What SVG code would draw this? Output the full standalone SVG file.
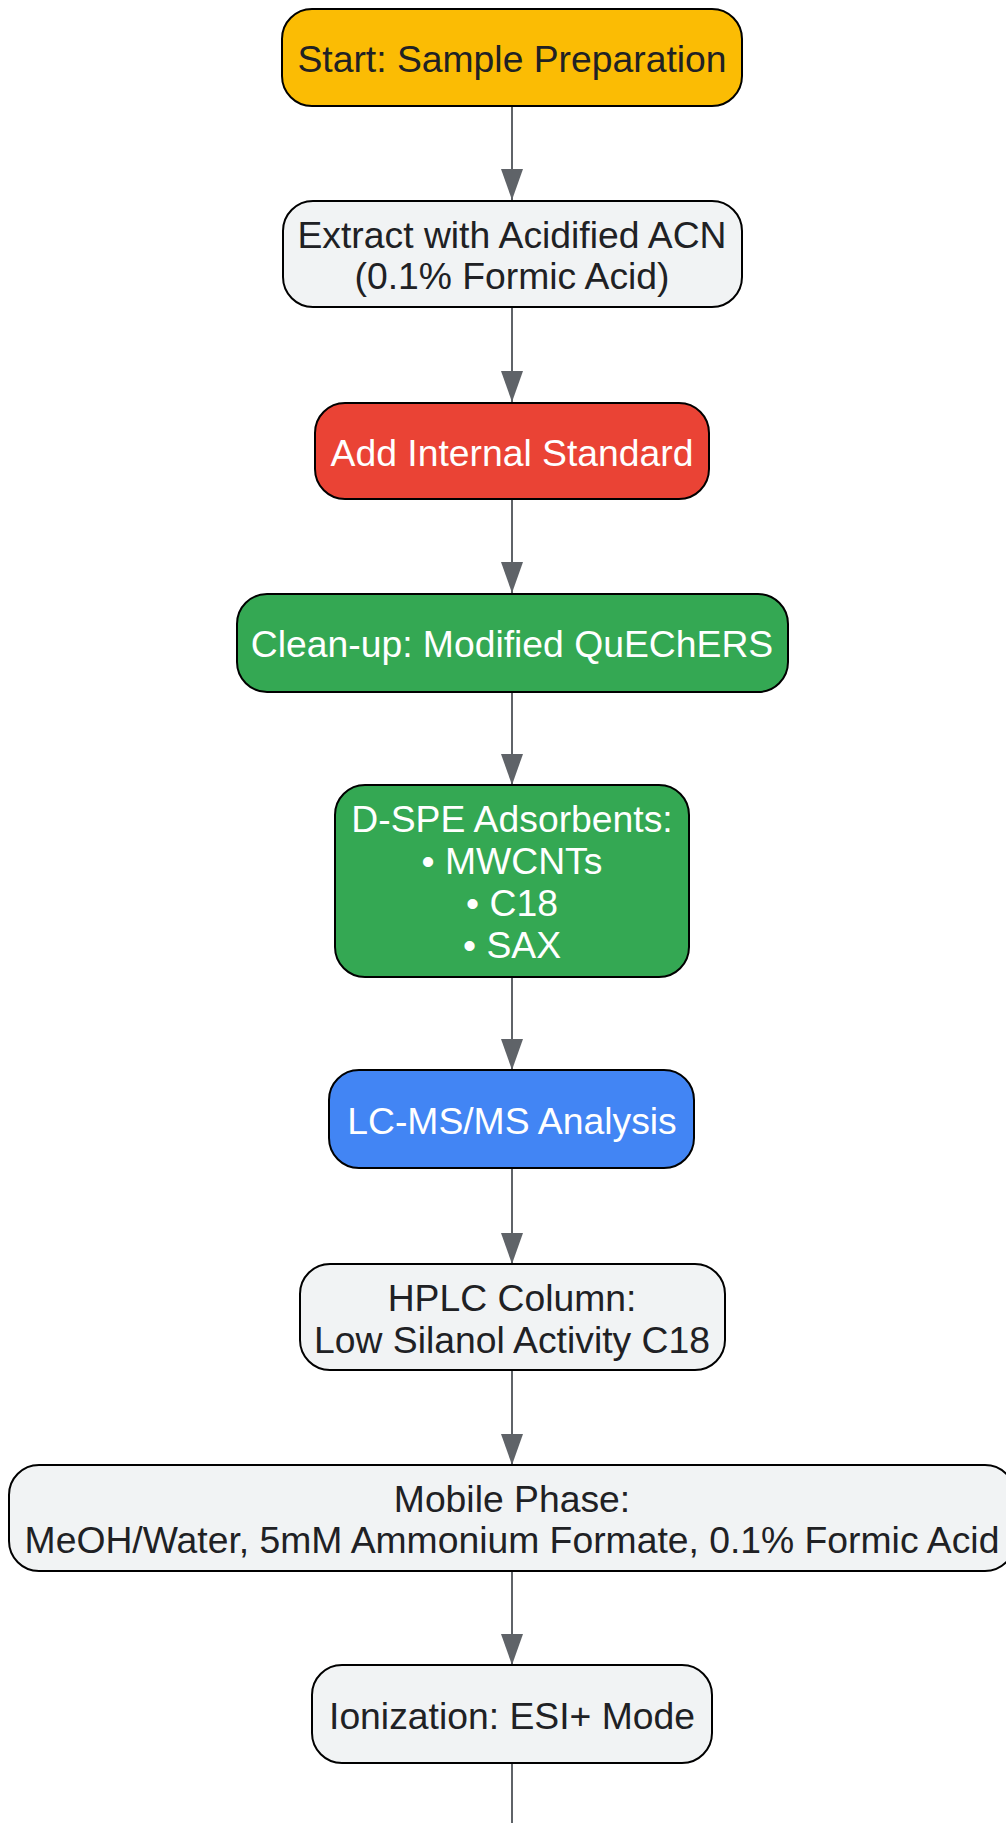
<svg xmlns="http://www.w3.org/2000/svg" width="1006" height="1823" viewBox="0 0 1006 1823">
  <defs>
    <style>
      .node rect { stroke: #000000; stroke-width: 2; }
      .light rect { fill: #F1F3F4; }
      .t { font-family: "Liberation Sans", Arial, sans-serif; font-size: 37.3px; text-anchor: middle; fill: #202124; }
      .w { fill: #FFFFFF; }
      .edge { stroke: #5F6368; stroke-width: 2; fill: none; }
    </style>
    <marker id="arrow" markerWidth="31" markerHeight="22" refX="31" refY="11" orient="auto" markerUnits="userSpaceOnUse" viewBox="0 0 31 22">
      <path d="M0,0 L31,11 L0,22 Z" fill="#5F6368"/>
    </marker>
  </defs>
  <rect width="1006" height="1823" fill="#FFFFFF"/>

  <g id="connectors">
    <line class="edge" x1="512" y1="106" x2="512" y2="200" marker-end="url(#arrow)"/>
    <line class="edge" x1="512" y1="307" x2="512" y2="402" marker-end="url(#arrow)"/>
    <line class="edge" x1="512" y1="499" x2="512" y2="593" marker-end="url(#arrow)"/>
    <line class="edge" x1="512" y1="692" x2="512" y2="785" marker-end="url(#arrow)"/>
    <line class="edge" x1="512" y1="977" x2="512" y2="1070" marker-end="url(#arrow)"/>
    <line class="edge" x1="512" y1="1168" x2="512" y2="1264" marker-end="url(#arrow)"/>
    <line class="edge" x1="512" y1="1370" x2="512" y2="1465" marker-end="url(#arrow)"/>
    <line class="edge" x1="512" y1="1571" x2="512" y2="1665" marker-end="url(#arrow)"/>
    <line class="edge" x1="512" y1="1763" x2="512" y2="1830"/>
  </g>

  <g id="start" class="node">
    <rect x="282" y="9" width="460" height="97" rx="30" fill="#FBBC04"/>
    <text class="t" x="512" y="72">Start: Sample Preparation</text>
  </g>

  <g id="extract" class="node light">
    <rect x="283" y="201" width="459" height="106" rx="30"/>
    <text class="t" x="512" y="248">Extract with Acidified ACN</text>
    <text class="t" x="512" y="289">(0.1% Formic Acid)</text>
  </g>

  <g id="internal-standard" class="node">
    <rect x="315" y="403" width="394" height="96" rx="30" fill="#EA4335"/>
    <text class="t w" x="512" y="466">Add Internal Standard</text>
  </g>

  <g id="cleanup" class="node">
    <rect x="237" y="594" width="551" height="98" rx="30" fill="#34A853"/>
    <text class="t w" x="512" y="657">Clean-up: Modified QuEChERS</text>
  </g>

  <g id="dspe" class="node">
    <rect x="335" y="785" width="354" height="192" rx="30" fill="#34A853"/>
    <text class="t w" x="512" y="832">D-SPE Adsorbents:</text>
    <text class="t w" x="512" y="874">• MWCNTs</text>
    <text class="t w" x="512" y="916">• C18</text>
    <text class="t w" x="512" y="958">• SAX</text>
  </g>

  <g id="lcms" class="node">
    <rect x="329" y="1070" width="365" height="98" rx="30" fill="#4285F4"/>
    <text class="t w" x="512" y="1134">LC-MS/MS Analysis</text>
  </g>

  <g id="hplc" class="node light">
    <rect x="300" y="1264" width="425" height="106" rx="30"/>
    <text class="t" x="512" y="1311">HPLC Column:</text>
    <text class="t" x="512" y="1353">Low Silanol Activity C18</text>
  </g>

  <g id="mobile-phase" class="node light">
    <rect x="9" y="1465" width="1006" height="106" rx="30"/>
    <text class="t" x="512" y="1512">Mobile Phase:</text>
    <text class="t" x="512" y="1553">MeOH/Water, 5mM Ammonium Formate, 0.1% Formic Acid</text>
  </g>

  <g id="ionization" class="node light">
    <rect x="312" y="1665" width="400" height="98" rx="30"/>
    <text class="t" x="512" y="1729">Ionization: ESI+ Mode</text>
  </g>
</svg>
